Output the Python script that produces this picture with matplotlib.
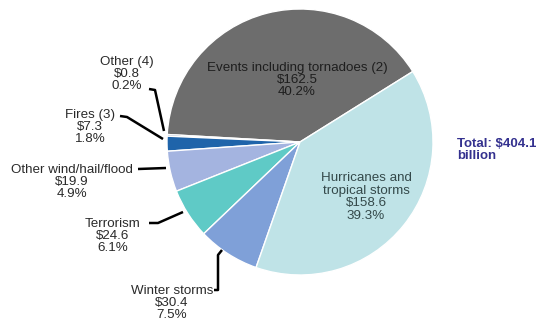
import matplotlib
matplotlib.use("Agg")
import matplotlib.pyplot as plt

categories = ["Events including tornadoes (2)", "Other (4)", "Fires (3)",
              "Other wind/hail/flood", "Terrorism", "Winter storms",
              "Hurricanes and\ntropical storms"]
values = [162.5, 0.8, 7.3, 19.9, 24.6, 30.4, 158.6]
percents = ["40.2%", "0.2%", "1.8%", "4.9%", "6.1%", "7.5%", "39.3%"]
colors = ["#6d6d6d", "#173f78", "#1f64aa", "#a4b4e0", "#5fcac6", "#7fa0d8", "#bfe3e7"]
total_label = "Total: $404.1\nbillion"

plt.rcParams['font.family'] = ['Liberation Sans', 'DejaVu Sans']

W, H = 549, 326
fig = plt.figure(figsize=(W / 100, H / 100), dpi=100)
cx, cy, R = 300, 142, 133
ax = fig.add_axes([(cx - R) / W, (H - cy - R) / H, 2 * R / W, 2 * R / H])
ax.pie(values, colors=colors, startangle=32, counterclock=True,
       wedgeprops=dict(edgecolor="white", linewidth=1.0))
ax.set_xlim(-1, 1)
ax.set_ylim(-1, 1)
ax.axis("off")

def P(px, py):
    return ((px - cx) / R, (cy - py) / R)

def lab(i):
    return f"{categories[i]}\n${values[i]:.1f}\n{percents[i]}"

tc = "#2a2a2a"
fs = 9.6
# inside labels
ax.text(*P(297, 80), lab(0), ha="center", va="center", fontsize=fs, color="#1e1e1e", linespacing=1.05)
ax.text(*P(366, 197), lab(6), ha="center", va="center", fontsize=fs, color="#34494a", linespacing=1.05)

# outside labels with connector lines
outside = [
    (1, (127, 74), [(149, 89), (155, 90), (164, 131)]),
    (2, (90, 127), [(120, 116), (127, 117), (163, 139)]),
    (3, (72, 182), [(138, 169), (166, 168)]),
    (4, (113, 236), [(149, 223), (158, 223), (183, 212)]),
    (5, (172, 303), [(214, 290), (218, 290), (218, 255), (222, 250)]),
]
for i, pos, pts in outside:
    ax.text(*P(*pos), lab(i), ha="center", va="center", fontsize=fs, color=tc, linespacing=1.05)
    xs = [P(*p)[0] for p in pts]
    ys = [P(*p)[1] for p in pts]
    ax.plot(xs, ys, color="black", lw=1.8, solid_capstyle="butt", clip_on=False)

fig.text(457 / W, 1 - 150 / H, total_label, ha="left", va="center", fontsize=9.5,
         fontweight="bold", color="#34318f", linespacing=1.05)

fig.savefig("out.png", dpi=100)
